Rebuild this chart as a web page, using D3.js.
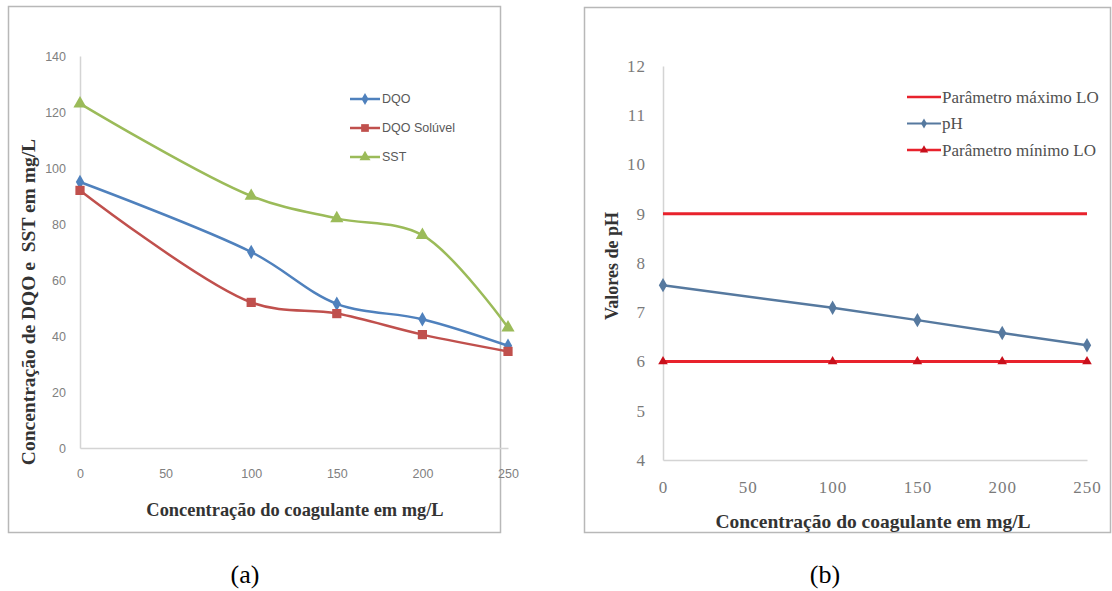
<!DOCTYPE html>
<html><head><meta charset="utf-8">
<script src="https://cdn.jsdelivr.net/npm/d3@7"></script>
<style>body{margin:0;background:#fff}svg{display:block}</style>
</head><body>
<svg id="c" width="1112" height="591"></svg>
<script>
// ---- data (a)
const xA = [0, 100, 150, 200, 250];
const dqo = [95, 70, 51.5, 46, 36.5];
const dqoSol = [92, 52, 48, 40.5, 34.5];
const sst = [123, 90, 82, 76, 43];
const xTicksA = [0, 50, 100, 150, 200, 250];
const yTicksA = [0, 20, 40, 60, 80, 100, 120, 140];
const seriesA = ["DQO", "DQO Solúvel", "SST"];
// ---- data (b)
const xB = [0, 100, 150, 200, 250];
const phMax = [9, 9, 9, 9, 9];
const ph = [7.55, 7.09, 6.84, 6.58, 6.33];
const phMin = [6, 6, 6, 6, 6];
const xTicksB = [0, 50, 100, 150, 200, 250];
const yTicksB = [4, 5, 6, 7, 8, 9, 10, 11, 12];
const seriesB = ["Parâmetro máximo LO", "pH", "Parâmetro mínimo LO"];

const svg = d3.select("#c");
const serif = "'Liberation Serif','Times New Roman',serif";
const sans = "'Liberation Sans',Arial,sans-serif";

// panel frames
svg.append("rect").attr("x", 8.5).attr("y", 6.5).attr("width", 492).attr("height", 526)
  .attr("fill", "#fff").attr("stroke", "#b8b8b8").attr("stroke-width", 1.5);
svg.append("rect").attr("x", 584.5).attr("y", 7.5).attr("width", 526).attr("height", 525)
  .attr("fill", "#fff").attr("stroke", "#b8b8b8").attr("stroke-width", 1.5);

// ================= chart (a)
const xa = d3.scaleLinear().domain([0, 250]).range([80, 508]);
const ya = d3.scaleLinear().domain([0, 140]).range([448, 56]);
const ga = svg.append("g");

const axA = ga.append("g").attr("transform", "translate(0,448)")
  .call(d3.axisBottom(xa).tickValues(xTicksA).tickSize(0).tickPadding(21).tickFormat(d3.format("d")));
const ayA = ga.append("g").attr("transform", "translate(80,0)")
  .call(d3.axisLeft(ya).tickValues(yTicksA).tickSize(0).tickPadding(14).tickFormat(d3.format("d")));
[axA, ayA].forEach(a => {
  a.select(".domain").attr("stroke", "#d4d4d4").attr("stroke-width", 1.5);
  a.selectAll("text").attr("font-family", sans).attr("font-size", 12.5).attr("fill", "#808080");
});

const colA = ["#4f81bd", "#c0504d", "#9bbb59"];
const dataA = [dqo, dqoSol, sst];
const symA = [d3.symbolDiamond, d3.symbolSquare, d3.symbolTriangle];
const symSizeA = [60, 85, 75];
const lineA = d3.line().x((d, i) => xa(xA[i])).y(d => ya(d)).curve(d3.curveCatmullRom.alpha(0.5));
dataA.forEach((s, k) => {
  ga.append("path").attr("d", lineA(s)).attr("fill", "none").attr("stroke", colA[k]).attr("stroke-width", 2.5);
  ga.selectAll(null).data(s).enter().append("path")
    .attr("transform", (d, i) => `translate(${xa(xA[i])},${ya(d)})`)
    .attr("d", d3.symbol().type(symA[k]).size(symSizeA[k])).attr("fill", colA[k]);
});
// legend (a)
seriesA.forEach((name, k) => {
  const y = 99 + k * 29;
  ga.append("line").attr("x1", 350).attr("x2", 380).attr("y1", y).attr("y2", y).attr("stroke", colA[k]).attr("stroke-width", 2.5);
  ga.append("path").attr("transform", `translate(365,${y})`).attr("d", d3.symbol().type(symA[k]).size(symSizeA[k] * 0.7)).attr("fill", colA[k]);
  ga.append("text").attr("x", 382).attr("y", y).attr("dy", "0.35em").text(name)
    .attr("font-family", sans).attr("font-size", 12.5).attr("fill", "#595959");
});
ga.append("text").attr("x", 295).attr("y", 516).attr("text-anchor", "middle").text("Concentração do coagulante em mg/L")
  .attr("font-family", serif).attr("font-weight", "bold").attr("font-size", 18.4).attr("fill", "#333");
ga.append("text").attr("transform", "translate(35,302) rotate(-90)").attr("text-anchor", "middle").text("Concentração de DQO e  SST em mg/L")
  .style("white-space", "pre")
  .attr("font-family", serif).attr("font-weight", "bold").attr("font-size", 19.5).attr("fill", "#333");

// ================= chart (b)
const xb = d3.scaleLinear().domain([0, 250]).range([663, 1087]);
const yb = d3.scaleLinear().domain([4, 12]).range([460, 66]);
const gb = svg.append("g");
const axB = gb.append("g").attr("transform", "translate(0,460)")
  .call(d3.axisBottom(xb).tickValues(xTicksB).tickSize(0).tickPadding(21).tickFormat(d3.format("d")));
const ayB = gb.append("g").attr("transform", "translate(663,0)")
  .call(d3.axisLeft(yb).tickValues(yTicksB).tickSize(0).tickPadding(17).tickFormat(d3.format("d")));
[axB, ayB].forEach(a => {
  a.select(".domain").attr("stroke", "#d4d4d4").attr("stroke-width", 1.5);
  a.selectAll("text").attr("font-family", serif).attr("font-size", 17).attr("fill", "#7a7a7a").attr("letter-spacing", 1);
});
const colB = ["#e8222c", "#56799f", "#e8222c"];
const dataB = [phMax, ph, phMin];
const lineB = d3.line().x((d, i) => xb(xB[i])).y(d => yb(d));
dataB.forEach((s, k) => {
  gb.append("path").attr("d", lineB(s)).attr("fill", "none").attr("stroke", colB[k]).attr("stroke-width", k === 1 ? 2.5 : 3);
});
gb.selectAll(null).data(ph).enter().append("path")
  .attr("transform", (d, i) => `translate(${xb(xB[i])},${yb(d)})`)
  .attr("d", d3.symbol().type(d3.symbolDiamond).size(60)).attr("fill", colB[1]);
gb.selectAll(null).data(phMin).enter().append("path")
  .attr("transform", (d, i) => `translate(${xb(xB[i])},${yb(d)})`)
  .attr("d", d3.symbol().type(d3.symbolTriangle).size(40)).attr("fill", "#c8101c");
// legend (b)
seriesB.forEach((name, k) => {
  const y = 97 + k * 26.5;
  gb.append("line").attr("x1", 907).attr("x2", 941).attr("y1", y).attr("y2", y).attr("stroke", colB[k]).attr("stroke-width", k === 1 ? 2 : 2.5);
  if (k === 1) gb.append("path").attr("transform", `translate(924,${y})`).attr("d", d3.symbol().type(d3.symbolDiamond).size(30)).attr("fill", colB[k]);
  if (k === 2) gb.append("path").attr("transform", `translate(924,${y})`).attr("d", d3.symbol().type(d3.symbolTriangle).size(30)).attr("fill", "#c8101c");
  gb.append("text").attr("x", 942).attr("y", y).attr("dy", "0.35em").text(name)
    .attr("font-family", serif).attr("font-size", 17).attr("fill", "#505050");
});
gb.append("text").attr("x", 873).attr("y", 528).attr("text-anchor", "middle").text("Concentração do coagulante em mg/L")
  .attr("font-family", serif).attr("font-weight", "bold").attr("font-size", 19.5).attr("fill", "#333");
gb.append("text").attr("transform", "translate(618,266) rotate(-90)").attr("text-anchor", "middle").text("Valores de pH")
  .attr("font-family", serif).attr("font-weight", "bold").attr("font-size", 18).attr("fill", "#333");

// captions
svg.append("text").attr("x", 245).attr("y", 583).attr("text-anchor", "middle").text("(a)")
  .attr("font-family", serif).attr("font-size", 26).attr("fill", "#000");
svg.append("text").attr("x", 825).attr("y", 583).attr("text-anchor", "middle").text("(b)")
  .attr("font-family", serif).attr("font-size", 26).attr("fill", "#000");
</script>
</body></html>
